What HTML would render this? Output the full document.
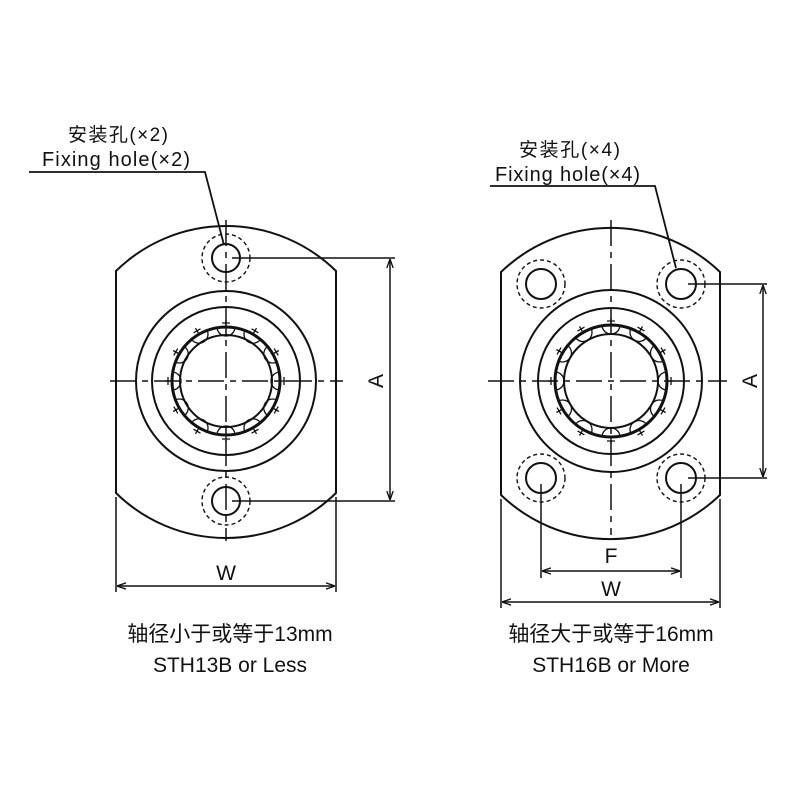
<!DOCTYPE html>
<html><head><meta charset="utf-8"><style>
html,body{margin:0;padding:0;background:#fff;}
svg{display:block;}
text{font-family:"Liberation Sans","Noto Sans CJK SC",sans-serif;fill:#111;}
</style></head><body>
<svg id="s" width="800" height="800" viewBox="0 0 800 800" xmlns="http://www.w3.org/2000/svg">
<defs>
<marker id="ar" viewBox="0 0 10 10" refX="10" refY="5" markerWidth="9" markerHeight="9" orient="auto-start-reverse" markerUnits="userSpaceOnUse"><path d="M0,1.5 L10,5 L0,8.5" fill="none" stroke="#111" stroke-width="1.5"/></marker>
</defs>
<g fill="none" stroke="#111" stroke-width="2">
<path d="M116,271 A157,157 0 0 1 336,271 L336,493 A157,157 0 0 1 116,493 Z"/>
<circle cx="226" cy="258" r="14"/><circle cx="226" cy="258" r="24" stroke-dasharray="4,3" stroke-width="1.4"/>
<circle cx="226" cy="501" r="14"/><circle cx="226" cy="501" r="24" stroke-dasharray="4,3" stroke-width="1.4"/>
<circle cx="226" cy="381" r="90"/><circle cx="226" cy="381" r="74"/>
<circle cx="226" cy="381" r="54" stroke-width="3"/><circle cx="226" cy="381" r="46"/>
<path d="M226,220 V541 M110,381 H343" stroke-width="1.5" stroke-dasharray="26,6,6,6"/>
<path d="M29,172 H205 L224,245" stroke-width="1.8"/>
<path d="M232,258 H395 M232,501 H395" stroke-width="1.5"/>
<path d="M390,259 V500" stroke-width="1.5" marker-start="url(#ar)" marker-end="url(#ar)"/>
<path d="M116,497 V592 M336,497 V592" stroke-width="1.5"/>
<path d="M117,586 H335" stroke-width="1.5" marker-start="url(#ar)" marker-end="url(#ar)"/>

<path d="M501,272 A158,158 0 0 1 720,272 L720,495 A158,158 0 0 1 501,495 Z"/>
<circle cx="541" cy="284" r="15"/><circle cx="541" cy="284" r="24" stroke-dasharray="4,3" stroke-width="1.4"/>
<circle cx="681" cy="284" r="15"/><circle cx="681" cy="284" r="24" stroke-dasharray="4,3" stroke-width="1.4"/>
<circle cx="541" cy="478" r="15"/><circle cx="541" cy="478" r="24" stroke-dasharray="4,3" stroke-width="1.4"/>
<circle cx="681" cy="478" r="15"/><circle cx="681" cy="478" r="24" stroke-dasharray="4,3" stroke-width="1.4"/>
<circle cx="611" cy="381" r="91"/><circle cx="611" cy="381" r="73"/>
<circle cx="611" cy="381" r="56" stroke-width="3"/><circle cx="611" cy="381" r="47"/>
<path d="M611,220 V535 M488,381 H727" stroke-width="1.5" stroke-dasharray="26,6,6,6"/>
<path d="M490,186 H655 L676,268" stroke-width="1.8"/>
<path d="M688,284 H767 M688,478 H767" stroke-width="1.5"/>
<path d="M763,285 V477" stroke-width="1.5" marker-start="url(#ar)" marker-end="url(#ar)"/>
<path d="M541,484 V578 M681,484 V578" stroke-width="1.5"/>
<path d="M542,571 H680" stroke-width="1.5" marker-start="url(#ar)" marker-end="url(#ar)"/>
<path d="M501,499 V608 M720,499 V608" stroke-width="1.5"/>
<path d="M502,602 H719" stroke-width="1.5" marker-start="url(#ar)" marker-end="url(#ar)"/>
<g id="balls" stroke-width="1.3"></g>
</g>
<text x="68" y="141" font-size="19" textLength="100">安装孔(×2)</text>
<text x="42" y="166" font-size="20" textLength="148">Fixing hole(×2)</text>
<text x="519" y="156" font-size="19" textLength="101">安装孔(×4)</text>
<text x="495" y="181" font-size="20" textLength="145">Fixing hole(×4)</text>
<text x="226" y="580" font-size="21" text-anchor="middle">W</text>
<text x="611" y="563" font-size="21" text-anchor="middle">F</text>
<text x="611" y="596" font-size="21" text-anchor="middle">W</text>
<text transform="translate(383,381) rotate(-90)" font-size="21" text-anchor="middle">A</text>
<text transform="translate(757,381) rotate(-90)" font-size="21" text-anchor="middle">A</text>
<text x="230" y="641" font-size="21" text-anchor="middle">轴径小于或等于13mm</text>
<text x="230" y="672" font-size="21" text-anchor="middle">STH13B or Less</text>
<text x="611" y="641" font-size="21" text-anchor="middle">轴径大于或等于16mm</text>
<text x="611" y="672" font-size="21" text-anchor="middle">STH16B or More</text>
</svg>
<script>
var g=document.getElementById('balls'),h='';
[[226,381,54],[611,381,56]].forEach(function(c){
 for(var i=0;i<12;i++){var a=i*Math.PI/6,R=c[2],r=9;
  var x=c[0]+R*Math.sin(a),y=c[1]-R*Math.cos(a);
  var ux=Math.sin(a),uy=-Math.cos(a),tx=Math.cos(a),ty=Math.sin(a);
  var x1=x+tx*r,y1=y+ty*r,x2=x-tx*r,y2=y-ty*r;
  h+='<path d="M'+x1+','+y1+' A9,9 0 0 1 '+x2+','+y2+'"/>';
  var kx=c[0]+(c[2]+4)*ux,ky=c[1]+(c[2]+4)*uy;
  h+='<path d="M'+(kx-tx*4)+','+(ky-ty*4)+' L'+(kx+tx*4)+','+(ky+ty*4)+' M'+(kx-ux*3)+','+(ky-uy*3)+' L'+(kx+ux*3)+','+(ky+uy*3)+'"/>';
 }});
g.innerHTML=h;
</script>
</body></html>
